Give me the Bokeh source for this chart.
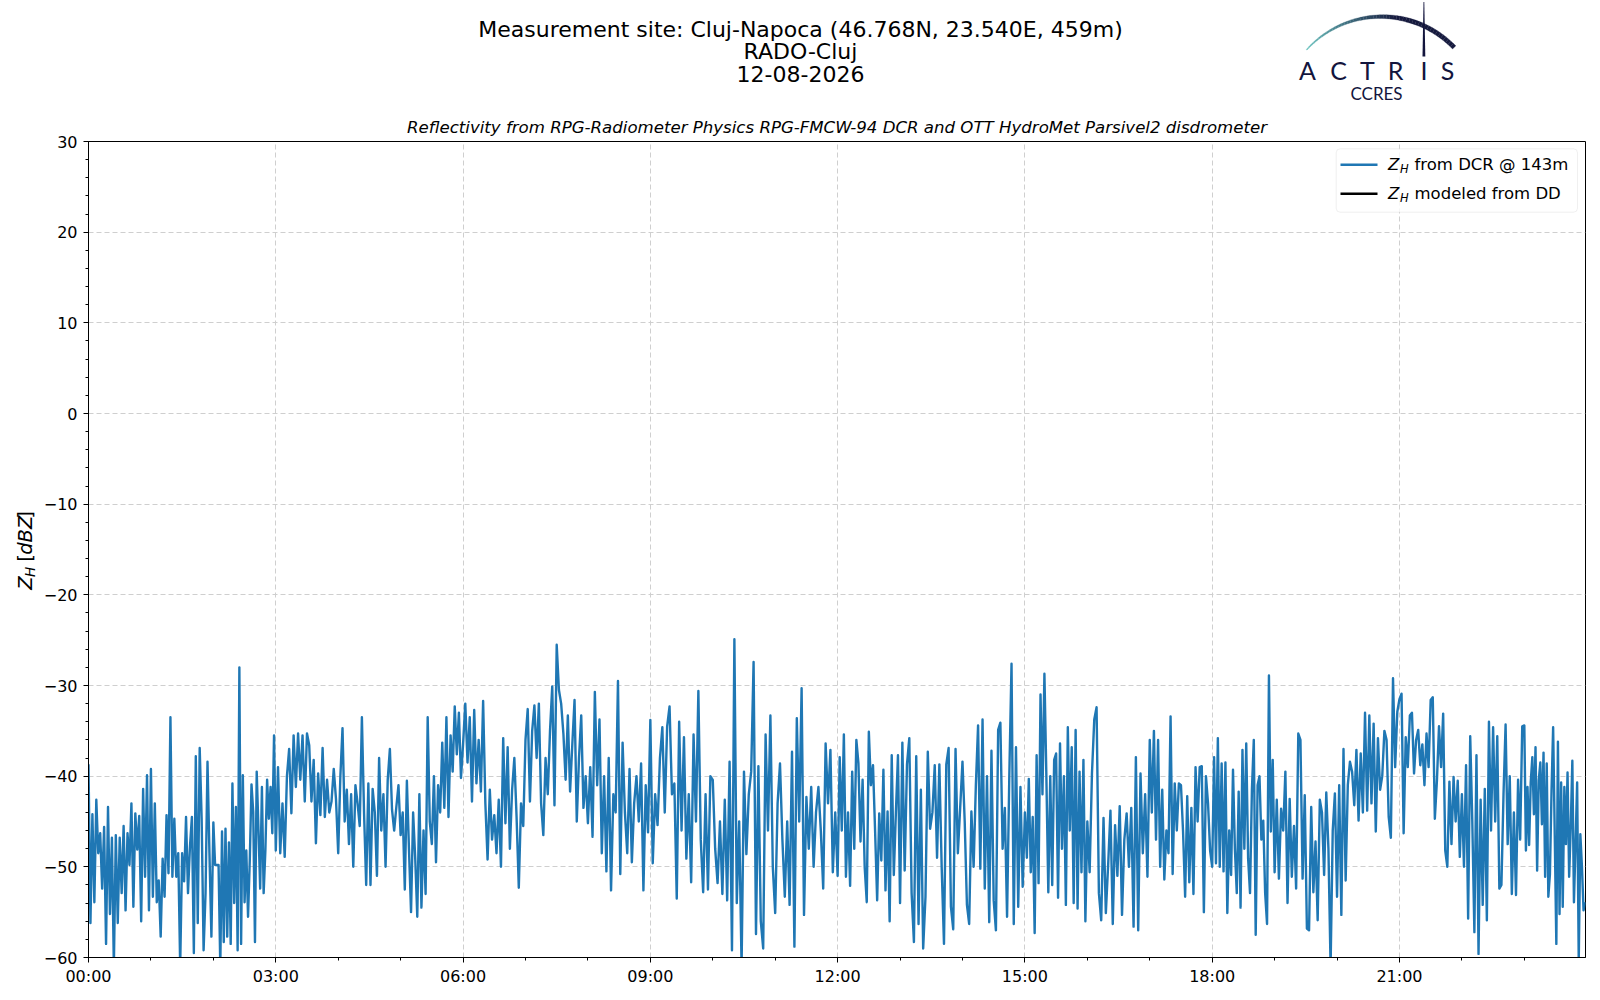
import math
from bokeh.plotting import figure
from bokeh.layouts import column, row
from bokeh.models import FixedTicker, Label, BoxAnnotation, PolyAnnotation, Range1d
from bokeh.embed import file_html
from bokeh.resources import INLINE

# ---------------- data (Z_H from DCR, dBZ), one list per hour ----------------
h00 = [-38.7, -56.2, -44.2, -53.9, -42.6, -48.5, -46.3, -52.4, -45.6, -58.5, -43.4, -55.2, -46.8, -61, -46.5, -56.2,
       -46.8, -52.9, -45.5, -54.8, -46.3, -49.8, -43, -54.4, -44.1, -48.1, -44.4, -56, -41.4, -51.1, -39.9, -54.8]
h01 = [-39.2, -53.3, -43, -53.9, -51.5, -57.7, -49.1, -53.3, -44.3, -50.7, -33.5, -51.1, -44.7, -51.1, -48.5, -61,
       -48.5, -51.6, -44.5, -52.9, -47.8, -44.5, -59.5, -37.8, -56.2, -36.9, -44.7, -59.2, -52.9, -38.4, -48.5, -57.7]
h02 = [-45.1, -49.8, -49.8, -49.8, -61, -46.1, -58.3, -45.8, -57.7, -47.3, -58.5, -40.8, -54, -43.4, -59.2, -28,
       -58.5, -39.9, -53.9, -48.2, -55.5, -49.3, -40.9, -44, -58.3, -39.5, -45.8, -52.4, -41.2, -52.9, -48.2, -40.4,
       -44.7, -41.2, -46.3, -35.5]
h03 = [-48.2, -39, -48.5, -43, -48.9, -40, -37, -44.1, -35.5, -41.2, -35.3, -40.4, -35.5, -42.8, -35.3, -36.6,
       -42.8, -38.2, -47.4, -39.7, -44.3, -36.9, -44.5, -40.4, -44, -42.8, -39.2, -42.5]
h04 = [-48.5, -40, -34.7, -45, -41.5, -47.5, -42, -50, -41, -43, -45.5, -33.5, -44, -52, -40.8, -52, -41.4, -44,
       -51, -38, -46, -42, -50, -40.4, -37, -43.7, -46, -43.4, -41]
h05 = [-46.5, -44, -52.5, -40.5, -48, -55, -44, -49, -55.5, -42, -54.5, -46, -53, -33.5, -45, -47.5, -40, -49.5,
       -41, -44, -36.3, -43.5, -33.5, -44.5, -35.5, -39.5, -32.3, -37.6, -33, -40.2]
h06 = [-36.5, -32, -38.5, -33.5, -42.8, -32.7, -40.8, -36, -41.7, -31.7, -43, -49.2, -41.5, -47, -44.3, -48.5,
       -42.6, -50, -35.8, -45.2, -36.8, -48, -41.5, -38, -44.5, -52.3, -43, -45.5]
h07 = [-36, -32.6, -42.8, -35, -32.2, -38, -32, -43, -46.5, -38, -42, -35, -30.1, -43.2, -25.5, -30.5, -32, -35.3,
       -40.4, -33.3, -41.7, -36.5, -31.6, -45, -38, -33.3, -43.5, -40]
h08 = [-45.2, -39, -46.7, -30.7, -41, -33.75, -48.5, -40, -50.5, -38, -52.6, -42, -44, -29.5, -50.8, -36.3, -44,
       -48.5, -39.2, -49.5, -43, -40, -45, -38.6, -52.6, -41, -46.2]
h09 = [-33.8, -49.6, -42, -45.4, -38, -34.6, -44, -34.5, -32.3, -42, -40.8, -53.5, -34, -46, -35.7, -49.1, -42,
       -51.7, -35.4, -45, -30.6, -47, -52.8, -42, -52.5, -40]
h10 = [-40.4, -48, -51.8, -45, -53, -42.6, -53.7, -38.4, -59.2, -24.9, -54, -45, -61, -39.5, -48.6, -42, -39.5,
       -27.4, -57.4, -38.9, -56, -59, -35.4, -46, -33.3, -50]
h11 = [-55.1, -43, -38.6, -47, -53.3, -45, -54.2, -37.3, -58.8, -33.6, -45, -30.3, -55.3, -42.3, -48, -41.2, -50,
       -44, -41.2, -46, -52.4, -36.4, -43, -37.1, -50.6, -44]
h12 = [-51, -37.9, -46, -35.4, -51.1, -44, -52.1, -39.5, -48, -36, -38.6, -47.2, -40.4, -50, -53.9, -35.1, -41,
       -38.8, -46, -53.7, -44.1, -49.3, -39.3, -52.6, -43.9, -56, -37.7, -50.9, -44, -37.7]
h13 = [-54, -36.3, -50.4, -38.7, -35.8, -52.9, -58.3, -37.8, -56.3, -41.5, -59, -53.3, -37.3, -45.8, -44, -38.8,
       -49, -38.7, -50, -58.5, -38.7, -36.9, -54.4, -56.9, -37, -48.5, -43.5]
h14 = [-38.4, -45, -54.2, -56.3, -43.9, -50, -41, -34.4, -50.2, -33.75, -52.4, -40, -56.1, -37.2, -53.7, -57,
       -34.9, -34.1, -48, -43.5, -55.5, -40, -27.6, -56.3, -36.8, -54.4, -41.2, -52.2]
h15 = [-44, -49, -40.3, -50.6, -44.5, -57.3, -37.7, -51.8, -31, -42, -28.7, -40, -52.8, -40, -52, -38.2, -37.5,
       -53.4, -36.4, -48, -40, -54.2, -34.6, -46, -36.8, -54, -34.9, -54.6, -39.5, -50.6, -38.2, -56]
h16 = [-45, -50.6, -39.7, -33.75, -32.4, -52.9, -55.9, -44.6, -55.1, -49.8, -43.8, -56.3, -45.4, -51, -43.3,
       -55.3, -47, -44.1, -50, -43.5, -56.6, -37.9, -57, -39.7, -48.5, -42, -51.1]
h17 = [-36, -44, -35, -47, -36, -50, -41.5, -51.4, -46, -48.5, -33.4, -50.8, -40.8, -46, -40.8, -41, -46.1, -53.3,
       -42.2, -51.7, -43.5, -53, -39, -45, -39, -38.9, -55, -40, -43, -48.2]
h18 = [-50, -37.9, -49.6, -35.8, -50, -38.6, -50.5, -38.5, -55.1, -46, -50.9, -39.3, -48, -52.9, -41.7, -54.5,
       -37.1, -48, -36.4, -49.1, -52.9, -41.5, -36, -57.5, -41, -40, -47, -44.9, -52.9, -56.3, -28.9, -46.1, -38.2]
h19 = [-50.6, -42.6, -51.3, -43.6, -46, -39.5, -54, -42.5, -51.1, -45.5, -52.4, -35.3, -36, -51.3, -42.1, -56.8,
       -57, -43.4, -52.8, -47.2, -55.9, -42.6, -44, -50.9, -41.8, -48, -61, -46, -41.9]
h20 = [-53.3, -41, -55.3, -37, -51.5, -41, -38.4, -39.5, -43.2, -37.1, -44.9, -37.5, -44, -33, -43.8, -33.3, -43,
       -34.2, -46.1, -35.8, -41.5, -40, -35, -36, -44.5, -46.8, -29.2, -39, -32.9]
h21 = [-31.5, -30.9, -46.3, -35.7, -39, -33.3, -33, -39.7, -36, -34.9, -38.8, -36.5, -41, -35.3, -39, -31.6, -31.3,
       -44.7, -40.5, -34.5, -39, -33.1, -48.2, -50, -40.6, -47.5, -40.1, -45, -40.5, -48.9]
h22 = [-42, -50, -38.8, -55.7, -35.6, -45, -57.2, -37.7, -59.6, -42.6, -54.2, -41.4, -55.9, -34, -46, -34.6, -45,
       -35.6, -52.4, -52, -42, -34.3, -47.5, -40, -53, -44, -53.1, -40.4, -47, -34.5]
h23 = [-34.4, -48.2, -41.2, -47.6, -40.7, -37.9, -44.2, -36.8, -50.4, -40.5, -38.5, -45.3, -37.4, -51.1, -38.6,
       -53.3, -50.8, -41.6, -34.6, -46.4, -58.5, -36.2, -55.2, -40.7, -54.4, -41.2, -47.5, -39.6, -51.1, -45.6,
       -38.3, -53.9, -47.5, -40.7, -60.5, -46.4, -50, -54.8, -53.9]
hourly_values = [h00, h01, h02, h03, h04, h05, h06, h07, h08, h09, h10, h11,
                 h12, h13, h14, h15, h16, h17, h18, h19, h20, h21, h22, h23]

x_ticks = [0, 3, 6, 9, 12, 15, 18, 21]
x_tick_labels = ["00:00", "03:00", "06:00", "09:00", "12:00", "15:00", "18:00", "21:00"]
y_ticks = [-60, -50, -40, -30, -20, -10, 0, 10, 20, 30]
y_tick_labels = ["\u221260", "\u221250", "\u221240", "\u221230", "\u221220", "\u221210", "0", "10", "20", "30"]

times, zh = [], []
for hour, arr in enumerate(hourly_values):
    n = len(arr)
    for i, v in enumerate(arr):
        times.append(hour + i / n)
        zh.append(v)

# ---------------- layout geometry (page pixels) ----------------
PAGE_W = 1592
TOP_H = 106            # strip with the three title lines and the logo
LEFT_W = 40            # strip with the rotated y label
FL, FT, FW, FH = 88, 141, 1497, 816   # main frame position on the page
MB_LEFT = FL - LEFT_W
MB_TOP = FT - TOP_H
MB_RIGHT = PAGE_W - FL - FW
MB_BOTTOM = 33
MAIN_H = MB_TOP + FH + MB_BOTTOM

X0, X1 = 0.0, 23.98
Y0, Y1 = -60.0, 30.0

def X(px):
    return X0 + (px - FL) / FW * (X1 - X0)

def Y(py):
    return Y1 - (py - FT) / FH * (Y1 - Y0)

def blank(width, height, xr, yr):
    f = figure(width=width, height=height, x_range=Range1d(*xr), y_range=Range1d(*yr),
               x_axis_type=None, y_axis_type=None, output_backend="svg", toolbar_location=None,
               min_border=0, min_border_left=0, min_border_right=0, min_border_top=0, min_border_bottom=0)
    f.outline_line_color = None
    f.background_fill_color = "white"
    f.border_fill_color = "white"
    f.grid.visible = False
    return f

def lab(fig, x, y, text, size, style="normal", align="left", color="black", font="DejaVu Sans", angle=0.0):
    fig.add_layout(Label(x=x, y=y, text=text, text_align=align, text_baseline="middle",
                         text_font=font, text_font_size=f"{size}px", text_font_style=style,
                         text_color=color, angle=angle))

# ---------------- main plot ----------------
p = figure(frame_width=FW, frame_height=FH, x_range=Range1d(X0, X1), y_range=Range1d(Y0, Y1),
           output_backend="svg", toolbar_location=None,
           min_border_left=MB_LEFT, min_border_right=MB_RIGHT, min_border_top=MB_TOP, min_border_bottom=MB_BOTTOM)
p.background_fill_color = "white"
p.border_fill_color = "white"
p.outline_line_color = "black"
p.outline_line_width = 1

p.title.text = "Reflectivity from RPG-Radiometer Physics RPG-FMCW-94 DCR and OTT HydroMet Parsivel2 disdrometer"
p.title.align = "center"
p.title.text_font = "DejaVu Sans"
p.title.text_font_size = "16.6px"
p.title.text_font_style = "italic"
p.title.text_color = "black"
p.title.standoff = 9
p.title.vertical_align = "bottom"

p.xaxis.ticker = FixedTicker(ticks=x_ticks, minor_ticks=list(range(0, 25)))
p.yaxis.ticker = FixedTicker(ticks=y_ticks, minor_ticks=list(range(-60, 31, 2)))
p.xaxis.major_label_overrides = {t: l for t, l in zip(x_ticks, x_tick_labels)}
p.yaxis.major_label_overrides = {t: l for t, l in zip(y_ticks, y_tick_labels)}
for ax in (p.xaxis[0], p.yaxis[0]):
    ax.major_tick_in = 0
    ax.major_tick_out = 5
    ax.minor_tick_in = 0
    ax.minor_tick_out = 3
    ax.axis_line_color = "black"
    ax.major_tick_line_color = "black"
    ax.minor_tick_line_color = "black"
    ax.major_label_text_font = "DejaVu Sans"
    ax.major_label_text_font_size = "16px"
    ax.major_label_text_color = "black"
p.yaxis.major_label_standoff = 6
p.xaxis.major_label_standoff = 4
p.grid.grid_line_color = "#cfcfcf"
p.grid.grid_line_dash = "5 3"
p.grid.grid_line_width = 1

p.line(times, zh, line_color="#1f77b4", line_width=2.4, line_join="round")

# legend (drawn by hand so that Z_H gets its subscript)
p.add_layout(BoxAnnotation(left=X(1335.7), right=X(1577), top=Y(148.3), bottom=Y(211.7),
                           fill_color="white", fill_alpha=0.8, line_color="#cccccc", line_width=1,
                           border_radius=4))
p.add_layout(BoxAnnotation(left=X(1340), right=X(1377), top=Y(163.1), bottom=Y(165.5),
                           fill_color="#1f77b4", fill_alpha=1, line_color=None, level="overlay"))
p.add_layout(BoxAnnotation(left=X(1340), right=X(1377), top=Y(192.1), bottom=Y(194.5),
                           fill_color="black", fill_alpha=1, line_color=None, level="overlay"))
for mid, txt in ((164.0, "from DCR @ 143m"), (193.0, "modeled from DD")):
    lab(p, X(1387.5), Y(mid), "Z", 16.5, style="italic")
    lab(p, X(1399.4), Y(mid + 4.6), "H", 11.5, style="italic")
    lab(p, X(1414), Y(mid), txt, 16.5)

# ---------------- top strip: titles + logo (x = page px, y = -page px) ----------------
top = blank(PAGE_W, TOP_H, (0, PAGE_W), (-TOP_H, 0))
lab(top, 800, -28.7, "Measurement site: Cluj-Napoca (46.768N, 23.540E, 459m)", 22, align="center")
lab(top, 800, -51.3, "RADO-Cluj", 22, align="center")
lab(top, 800, -73.7, "12-08-2026", 22, align="center")

navy = "#13153d"
for cxl, ch in zip([1307, 1338, 1367, 1395, 1423.5, 1447], "ACTRIS"):
    lab(top, cxl, -69.5, ch, 25, align="center", color=navy, font="Lato")
lab(top, 1376, -92.5, "CCRES", 17, align="center", color=navy, font="Lato")

cx, cy, R = 1381.0, 117.2, 101.1
a0, a1 = 137.8, 44.0
N = 50
teal = (104, 196, 192)
dark = (22, 26, 62)
for i in range(N):
    t0, t1 = i / N, (i + 1) / N
    tm = (t0 + t1) / 2
    w = 1.0 + 3.6 * min(1.0, tm * 1.5)
    s = min(1.0, tm / 0.6)
    col = tuple(int(teal[k] + (dark[k] - teal[k]) * s) for k in range(3))
    hexcol = "#%02x%02x%02x" % col
    A0 = math.radians(a0 + (a1 - a0) * t0)
    A1 = math.radians(a0 + (a1 - a0) * t1)
    ro, ri = R + w / 2, R - w / 2
    pxs = [cx + ro * math.cos(A0), cx + ro * math.cos(A1), cx + ri * math.cos(A1), cx + ri * math.cos(A0)]
    pys = [cy - ro * math.sin(A0), cy - ro * math.sin(A1), cy - ri * math.sin(A1), cy - ri * math.sin(A0)]
    top.add_layout(PolyAnnotation(xs=pxs, ys=[-v for v in pys], fill_color=hexcol, fill_alpha=1,
                                  line_color=hexcol, line_width=0.8))
top.add_layout(PolyAnnotation(xs=[1422.0, 1424.8, 1423.8, 1423.0], ys=[-56.0, -56.0, -1.5, -1.5],
                              fill_color=navy, fill_alpha=1, line_color=None))

# ---------------- left strip: rotated y label (x = page px, y = -page px) ----------------
left = blank(LEFT_W, MAIN_H, (0, LEFT_W), (-(TOP_H + MAIN_H), -TOP_H))
rot = math.pi / 2
lab(left, 24.5, -591.5, "Z", 19.5, style="italic", angle=rot)
lab(left, 29.5, -577.8, "H", 13.6, style="italic", angle=rot)
lab(left, 24.5, -561.3, "[", 19.5, angle=rot)
lab(left, 24.5, -553.7, "dBZ", 19.5, style="italic", angle=rot)
lab(left, 24.5, -514.6, "]", 19.5, angle=rot)

layout = column(top, row(left, p, spacing=0), spacing=0)
open("out.html", "w").write(file_html(layout, INLINE))
